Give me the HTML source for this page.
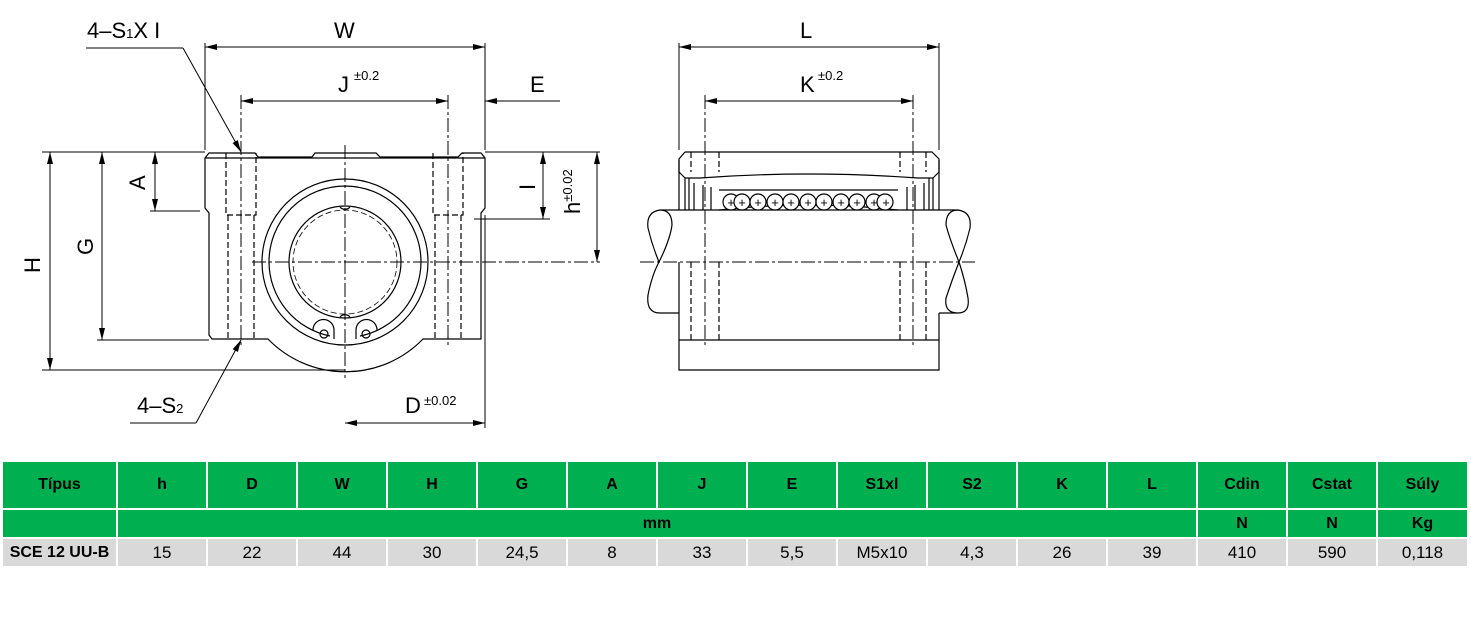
<!DOCTYPE html>
<html><head><meta charset="utf-8"><style>
body{margin:0;width:1471px;height:628px;background:#fff;position:relative;overflow:hidden;font-family:"Liberation Sans",sans-serif}
.c{position:absolute;box-sizing:border-box;display:flex;align-items:center;justify-content:center;font-size:16px}
.g{background:#00b050;font-weight:bold;color:#000}
.d{background:#d9d9d9;color:#000;font-size:17px}
</style></head><body>
<svg width="1471" height="460" style="position:absolute;left:0;top:0" font-family="Liberation Sans, sans-serif">
<defs><marker id="a" viewBox="0 0 12 6" refX="12" refY="3" markerWidth="12" markerHeight="6" orient="auto-start-reverse" markerUnits="userSpaceOnUse"><path d="M0,0 L12,3 L0,6z" fill="#000"/></marker></defs>
<g stroke="#000" stroke-width="1.2" fill="none">
<path d="M209,153 L255,153 L258,157 L312,157 L315,153 L376,153 L380,157 L458,157 L462,153 L481,153 L485,158 L485,208 L481,213 L481,339 L423,339 A108,108 0 0 1 268,339 L212,339 L209,335 L209,213 L205,208 L205,158 Z"/>
<line x1="205" y1="158" x2="485" y2="158"/>
<circle cx="345" cy="262" r="83"/>
<path d="M269,262 A76,76 0 1 1 421,262 A76,76 0 0 1 360,336 M330,336 A76,76 0 0 1 269,262"/>
<circle cx="345" cy="262" r="56"/>
<circle cx="345" cy="262" r="52" stroke-dasharray="6,3" stroke-width="0.8"/>
<circle cx="324" cy="334" r="4"/><circle cx="366" cy="334" r="4"/>
<path d="M313,330 A10,10 0 0 1 334,330 L334,339 M377,330 A10,10 0 0 0 356,330 L356,339"/>
<path d="M340,207 A6,5 0 0 0 350,207 M340,317 A6,5 0 0 1 350,317"/>
<g stroke-dasharray="6,3">
<path d="M226,153 V215 H256 V153 M228,215 V339 M254,215 V339 M433,153 V215 H463 V153 M435,215 V339 M461,215 V339"/>
</g>
<g stroke-dasharray="14,3,3,3" stroke-width="1">
<line x1="345" y1="145" x2="345" y2="378"/><line x1="252" y1="262" x2="600" y2="262"/>
<line x1="241" y1="95" x2="241" y2="345"/><line x1="448" y1="95" x2="448" y2="345"/>
</g>
<g stroke-width="1">
<line x1="205" y1="43" x2="205" y2="150"/><line x1="485" y1="43" x2="485" y2="150"/>
<line x1="205" y1="47" x2="485" y2="47" marker-start="url(#a)" marker-end="url(#a)"/>
<line x1="241" y1="101" x2="448" y2="101" marker-start="url(#a)" marker-end="url(#a)"/>
<line x1="560" y1="101" x2="485" y2="101" marker-end="url(#a)"/>
<line x1="42" y1="152" x2="205" y2="152"/><line x1="42" y1="370" x2="345" y2="370"/>
<line x1="50" y1="152" x2="50" y2="370" marker-start="url(#a)" marker-end="url(#a)"/>
<line x1="97" y1="340" x2="209" y2="340"/>
<line x1="102" y1="152" x2="102" y2="340" marker-start="url(#a)" marker-end="url(#a)"/>
<line x1="150" y1="211" x2="200" y2="211"/>
<line x1="155" y1="152" x2="155" y2="211" marker-start="url(#a)" marker-end="url(#a)"/>
<line x1="485" y1="152" x2="600" y2="152"/>
<line x1="474" y1="219" x2="550" y2="219"/>
<line x1="543" y1="152" x2="543" y2="219" marker-start="url(#a)" marker-end="url(#a)"/>
<line x1="597" y1="152" x2="597" y2="262" marker-start="url(#a)" marker-end="url(#a)"/>
<line x1="485" y1="215" x2="485" y2="428"/>
<line x1="345" y1="423" x2="485" y2="423" marker-start="url(#a)" marker-end="url(#a)"/>
<polyline points="86,48 183,48"/><line x1="183" y1="48" x2="241" y2="152" marker-end="url(#a)"/>
<polyline points="130,423 196,423"/><line x1="196" y1="423" x2="241" y2="340" marker-end="url(#a)"/>
</g>
<path d="M685,152 L932,152 L939,159 L939,172 L933,178 L933,210 M685,152 L679,159 L679,172 L685,178 L685,210"/>
<path d="M685,178 L700,178 Q808,170 918,178 L933,178"/>
<path d="M679,160 V210 M939,160 V210"/>
<path d="M679,313 V370 H939 V313 M679,340 H939"/>
<path d="M660,210 H958 M679,313 H660 Q646,313 648,295 Q652,275 659,262 Q670,240 672,225 Q672,210 660,210 Q646,212 648,228 Q652,245 659,262 M679,313 V262"/>
<path d="M939,313 H958 Q970,313 968,298 Q965,280 959,262 Q950,240 946,225 Q946,210 958,210 Q972,212 970,228 Q966,245 959,262 Q952,280 946,298 Q944,313 958,313"/>
<path d="M689,178 V210 M694,183 V210 M703,185 V210 M711,187 V210 M929,178 V210 M924,183 V210 M915,185 V210 M907,187 V210 M719,190 H898 M719,210 Q808,200 898,210"/>
<g stroke-dasharray="6,3"><path d="M691,152 V172 M719,152 V172 M900,152 V172 M926,152 V172 M691,262 V340 M719,262 V340 M900,262 V340 M926,262 V340"/></g>
<g stroke-dasharray="14,3,3,3" stroke-width="1"><line x1="705" y1="95" x2="705" y2="345"/><line x1="913" y1="95" x2="913" y2="345"/><line x1="640" y1="262" x2="975" y2="262"/></g>
<g stroke-width="1">
<line x1="679" y1="43" x2="679" y2="150"/><line x1="939" y1="43" x2="939" y2="150"/>
<line x1="679" y1="47" x2="939" y2="47" marker-start="url(#a)" marker-end="url(#a)"/>
<line x1="705" y1="101" x2="913" y2="101" marker-start="url(#a)" marker-end="url(#a)"/>
</g>
<g fill="#fff">
<circle cx="731" cy="202" r="8"/><circle cx="742" cy="202" r="8"/><circle cx="758" cy="202" r="8"/><circle cx="775" cy="202" r="8"/><circle cx="791" cy="202" r="8"/><circle cx="808" cy="202" r="8"/><circle cx="824" cy="202" r="8"/><circle cx="841" cy="202" r="8"/><circle cx="857" cy="202" r="8"/><circle cx="874" cy="202" r="8"/><circle cx="885" cy="202" r="8"/>
</g>
</g>
<g font-size="13" text-anchor="middle" fill="#000"><text x="731" y="207">+</text><text x="742" y="207">+</text><text x="758" y="207">+</text><text x="775" y="207">+</text><text x="791" y="207">+</text><text x="808" y="207">+</text><text x="824" y="207">+</text><text x="841" y="207">+</text><text x="857" y="207">+</text><text x="874" y="207">+</text><text x="886" y="207">+</text></g>
<g fill="#000" font-size="22">
<text x="334" y="38">W</text>
<text x="338" y="92">J</text><text x="354" y="80" font-size="13">±0.2</text>
<text x="530" y="92">E</text>
<text x="87" y="38">4–S<tspan font-size="13">1</tspan>X I</text>
<text x="137" y="413">4–S<tspan font-size="13">2</tspan></text>
<text x="405" y="413">D</text><text x="424" y="405" font-size="13">±0.02</text>
<text x="800" y="38">L</text>
<text x="800" y="92">K</text><text x="818" y="80" font-size="13">±0.2</text>
<text transform="translate(40,273) rotate(-90)">H</text>
<text transform="translate(93,255) rotate(-90)">G</text>
<text transform="translate(145,190) rotate(-90)">A</text>
<text transform="translate(535,190) rotate(-90)">I</text>
<text transform="translate(580,214) rotate(-90)">h<tspan font-size="13" dy="-8">±0.02</tspan></text>
</g>
</svg>
<div class="c g" style="left:3px;top:462px;width:113px;height:46px">Típus</div>
<div class="c g" style="left:118px;top:462px;width:88px;height:46px">h</div>
<div class="c g" style="left:208px;top:462px;width:88px;height:46px">D</div>
<div class="c g" style="left:298px;top:462px;width:88px;height:46px">W</div>
<div class="c g" style="left:388px;top:462px;width:88px;height:46px">H</div>
<div class="c g" style="left:478px;top:462px;width:88px;height:46px">G</div>
<div class="c g" style="left:568px;top:462px;width:88px;height:46px">A</div>
<div class="c g" style="left:658px;top:462px;width:88px;height:46px">J</div>
<div class="c g" style="left:748px;top:462px;width:88px;height:46px">E</div>
<div class="c g" style="left:838px;top:462px;width:88px;height:46px">S1xl</div>
<div class="c g" style="left:928px;top:462px;width:88px;height:46px">S2</div>
<div class="c g" style="left:1018px;top:462px;width:88px;height:46px">K</div>
<div class="c g" style="left:1108px;top:462px;width:88px;height:46px">L</div>
<div class="c g" style="left:1198px;top:462px;width:88px;height:46px">Cdin</div>
<div class="c g" style="left:1288px;top:462px;width:88px;height:46px">Cstat</div>
<div class="c g" style="left:1378px;top:462px;width:89px;height:46px">Súly</div>
<div class="c g" style="left:3px;top:510px;width:113px;height:27px"></div>
<div class="c g" style="left:118px;top:510px;width:1078px;height:27px">mm</div>
<div class="c g" style="left:1198px;top:510px;width:88px;height:27px">N</div>
<div class="c g" style="left:1288px;top:510px;width:88px;height:27px">N</div>
<div class="c g" style="left:1378px;top:510px;width:89px;height:27px">Kg</div>
<div class="c d" style="left:3px;top:539px;width:113px;height:27px;font-weight:bold;font-size:16px">SCE 12 UU-B</div>
<div class="c d" style="left:118px;top:539px;width:88px;height:27px">15</div>
<div class="c d" style="left:208px;top:539px;width:88px;height:27px">22</div>
<div class="c d" style="left:298px;top:539px;width:88px;height:27px">44</div>
<div class="c d" style="left:388px;top:539px;width:88px;height:27px">30</div>
<div class="c d" style="left:478px;top:539px;width:88px;height:27px">24,5</div>
<div class="c d" style="left:568px;top:539px;width:88px;height:27px">8</div>
<div class="c d" style="left:658px;top:539px;width:88px;height:27px">33</div>
<div class="c d" style="left:748px;top:539px;width:88px;height:27px">5,5</div>
<div class="c d" style="left:838px;top:539px;width:88px;height:27px">M5x10</div>
<div class="c d" style="left:928px;top:539px;width:88px;height:27px">4,3</div>
<div class="c d" style="left:1018px;top:539px;width:88px;height:27px">26</div>
<div class="c d" style="left:1108px;top:539px;width:88px;height:27px">39</div>
<div class="c d" style="left:1198px;top:539px;width:88px;height:27px">410</div>
<div class="c d" style="left:1288px;top:539px;width:88px;height:27px">590</div>
<div class="c d" style="left:1378px;top:539px;width:89px;height:27px">0,118</div>
</body></html>
